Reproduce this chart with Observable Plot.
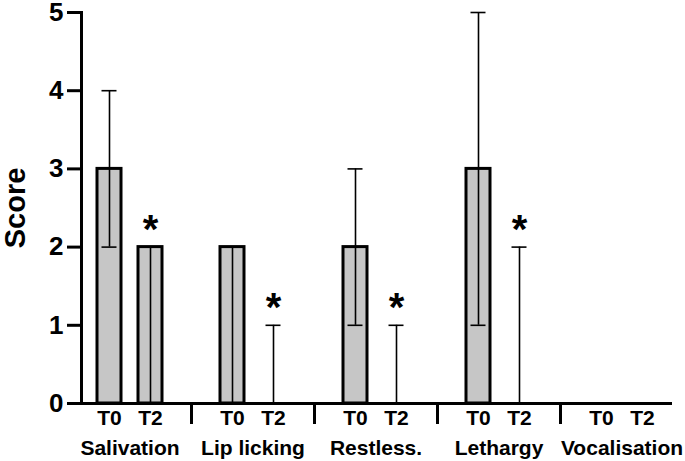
<!DOCTYPE html>
<html>
<head>
<meta charset="utf-8">
<script src="https://cdn.jsdelivr.net/npm/d3@7"></script>
<script src="https://cdn.jsdelivr.net/npm/@observablehq/plot@0.6"></script>
<style>
  html, body { margin: 0; padding: 0; background: white; }
</style>
</head>
<body>
<div id="chart"></div>
<script>
const categories = ["Salivation", "Lip licking", "Restless.", "Lethargy", "Vocalisation"];
const times = ["T0", "T2"];
const t0Median = [3, 2, 2, 3, 0];
const t0Low    = [2, 0, 1, 1, 0];
const t0High   = [4, 2, 3, 5, 0];
const t2Median = [2, 0, 0, 0, 0];
const t2Low    = [0, 0, 0, 0, 0];
const t2High   = [2, 1, 1, 2, 0];
const t2Significant = [true, true, true, true, false];
const yTicks = [0, 1, 2, 3, 4, 5];

const rows = [];
categories.forEach((c, i) => {
  rows.push({cat: c, time: "T0", value: t0Median[i], low: t0Low[i], high: t0High[i], sig: false});
  rows.push({cat: c, time: "T2", value: t2Median[i], low: t2Low[i], high: t2High[i], sig: t2Significant[i]});
});

const W = 685, H = 461;
const mL = 68, mR = 2, mT = 12, mB = 58;
const step = (W - mL - mR) / categories.length;
const font = "Liberation Sans, Arial, Helvetica, sans-serif";

const chart = Plot.plot({
  width: W,
  height: H,
  marginLeft: mL,
  marginRight: mR,
  marginTop: mT,
  marginBottom: mB,
  style: {fontFamily: font, color: "black", background: "white"},
  fx: {domain: categories, padding: 0, label: null},
  x: {domain: times, paddingInner: 0.4146, paddingOuter: 0.7073, label: null},
  y: {domain: [0, 5], label: null},
  marks: [
    Plot.barY(rows, {fx: "cat", x: "time", y: "value", fill: "#c6c6c6", stroke: "black", strokeWidth: 3}),
    Plot.ruleX(rows.filter(d => d.high > d.low), {fx: "cat", x: "time", y1: "low", y2: "high", stroke: "black", strokeWidth: 1.6}),
    Plot.tickY(rows, {fx: "cat", x: "time", y: "high", stroke: "black", strokeWidth: 1.6, insetLeft: 4.5, insetRight: 4.5}),
    Plot.tickY(rows, {fx: "cat", x: "time", y: "low", stroke: "black", strokeWidth: 1.6, insetLeft: 4.5, insetRight: 4.5}),
    Plot.text(rows.filter(d => d.sig), {fx: "cat", x: "time", y: "high", text: () => "*", fontSize: 40, fontWeight: "bold", lineAnchor: "middle", dy: -17, fill: "black"}),
    // bottom axis line
    Plot.ruleY([{cat: categories[0], v: 0}], {fx: "cat", y: "v", stroke: "black", strokeWidth: 3, insetLeft: 13}),
    Plot.ruleY(categories.slice(1, -1).map(c => ({cat: c, v: 0})), {fx: "cat", y: "v", stroke: "black", strokeWidth: 3}),
    Plot.ruleY([{cat: categories[categories.length - 1], v: 0}], {fx: "cat", y: "v", stroke: "black", strokeWidth: 3, insetRight: 11}),
    // y axis line
    Plot.frame({anchor: "left", facetAnchor: "left", dx: 13, stroke: "black", strokeWidth: 3}),
    Plot.axisY({ticks: yTicks, tickFormat: d3.format("d"), dx: 13, tickSize: 14, tickPadding: 4, strokeWidth: 3, fontSize: 26, fontWeight: "bold", label: null}),
    Plot.text(["Score"], {frameAnchor: "left", facetAnchor: "left", rotate: -90, dx: -53, fontSize: 29, fontWeight: "bold", textAnchor: "middle", lineAnchor: "middle", fill: "black"}),
    Plot.axisX({tickSize: 0, tickPadding: 7, fontSize: 21, fontWeight: "bold", label: null}),
    Plot.axisFx({anchor: "bottom", tickSize: 0, tickPadding: 37, fontSize: 21, fontWeight: "bold", label: null}),
    Plot.axisFx({anchor: "bottom", ticks: categories.slice(1), tickSize: 21, dx: -step / 2, strokeWidth: 3, fill: "none", label: null})
  ]
});
document.getElementById("chart").appendChild(chart);
</script>
</body>
</html>
